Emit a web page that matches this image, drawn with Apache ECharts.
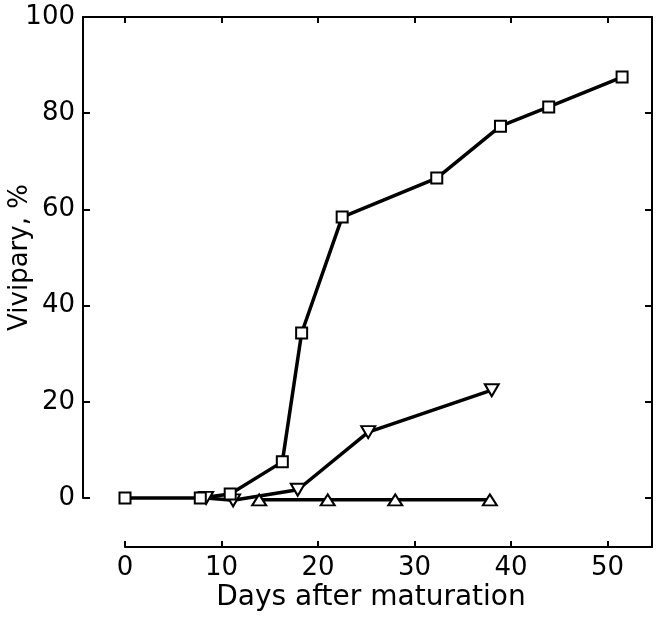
<!DOCTYPE html>
<html>
<head>
<meta charset="utf-8">
<script src="https://cdn.jsdelivr.net/npm/echarts@6/dist/echarts.min.js"></script>
<style>
  html, body { margin: 0; padding: 0; background: #fff; }
  #chart { width: 656px; height: 620px; }
</style>
</head>
<body>
<div id="chart"></div>
<script>
// Vivipary (%) against days after maturation, three treatments
const squareDays   = [0, 7.8, 10.9, 16.3, 18.3, 22.5, 32.3, 38.9, 43.9, 51.5];
const squareValues = [0, 0, 0.8, 7.5, 34.3, 58.4, 66.5, 77.3, 81.3, 87.5];

const downTriDays   = [8.4, 11.2, 17.9, 25.2, 38.0];
const downTriValues = [0, -0.5, 1.7, 13.7, 22.4];

const upTriDays   = [13.9, 21.0, 28.0, 37.8];
const upTriValues = [-0.4, -0.4, -0.4, -0.4];

const xTicks = [0, 10, 20, 30, 40, 50];
const yTicks = [0, 20, 40, 60, 80, 100];

// the day axis sits a little below the 0 % level, so the plotting scale runs below zero
const Y_FLOOR = -10.2;
const X_CEIL = 54.6;

const FONT = 'DejaVu Sans';
const INK = '#000';

function pairs(xs, ys) {
  return xs.map((x, i) => [x, ys[i]]);
}

function lineSeries(name, xs, ys, symbol, size, rotate) {
  return {
    name: name,
    type: 'line',
    xAxisIndex: 1,
    yAxisIndex: 2,
    data: pairs(xs, ys),
    symbol: symbol,
    symbolSize: size,
    symbolRotate: rotate || 0,
    showAllSymbol: true,
    clip: false,
    lineStyle: { color: INK, width: 3.5 },
    itemStyle: { color: '#fff', borderColor: INK, borderWidth: 2 },
    emphasis: { disabled: true },
    animation: false
  };
}

const shownLine = { show: true, onZero: false, lineStyle: { color: INK, width: 2 } };
const hiddenLine = { show: false, onZero: false };
const innerTick = len => ({ show: true, inside: true, length: len, lineStyle: { color: INK, width: 2 } });

const chart = echarts.init(document.getElementById('chart'), null, { renderer: 'canvas' });

chart.setOption({
  backgroundColor: '#fff',
  animation: false,
  grid: [
    // percentage scale: left edge, top edge and right-hand ticks
    { left: 83, right: 4, top: 17, bottom: 122, containLabel: false, outerBoundsMode: 'none' },
    // day scale: bottom axis, top ticks, right edge; series are drawn here
    { left: 125, right: 4, top: 17, bottom: 73, containLabel: false, outerBoundsMode: 'none' }
  ],
  xAxis: [
    {
      gridIndex: 0, type: 'value', position: 'top', min: 0, max: 1,
      axisLine: shownLine,
      axisTick: { show: false }, axisLabel: { show: false }, splitLine: { show: false }
    },
    {
      gridIndex: 1, type: 'value', position: 'bottom',
      min: xTicks[0], max: X_CEIL, interval: 10,
      axisLine: shownLine,
      axisTick: innerTick(6),
      axisLabel: {
        color: INK, fontFamily: FONT, fontSize: 26, margin: 8, showMaxLabel: false,
        formatter: v => (xTicks.indexOf(v) >= 0 ? String(v) : '')
      },
      splitLine: { show: false },
      name: 'Days after maturation',
      nameLocation: 'middle', nameGap: 37, nameMoveOverlap: false,
      nameTextStyle: { color: INK, fontFamily: FONT, fontSize: 28, padding: [0, 35, 0, 0] }
    },
    {
      gridIndex: 1, type: 'value', position: 'top',
      min: xTicks[0], max: X_CEIL, interval: 10,
      axisLine: hiddenLine,
      axisTick: innerTick(6),
      axisLabel: { show: false },
      splitLine: { show: false }
    }
  ],
  yAxis: [
    {
      gridIndex: 0, type: 'value', position: 'left',
      min: yTicks[0], max: yTicks[yTicks.length - 1], interval: 20,
      axisLine: shownLine,
      axisTick: innerTick(7),
      axisLabel: { color: INK, fontFamily: FONT, fontSize: 26, margin: 8 },
      splitLine: { show: false },
      name: 'Vivipary, %',
      nameLocation: 'middle', nameGap: 50, nameRotate: 90, nameMoveOverlap: false,
      nameTextStyle: { color: INK, fontFamily: FONT, fontSize: 26 }
    },
    {
      gridIndex: 0, type: 'value', position: 'right',
      min: yTicks[0], max: yTicks[yTicks.length - 1], interval: 20,
      axisLine: hiddenLine,
      axisTick: Object.assign(innerTick(7), { interval: (i, v) => v > 0 && v < 100 }),
      axisLabel: { show: false },
      splitLine: { show: false }
    },
    {
      gridIndex: 1, type: 'value', position: 'right',
      min: Y_FLOOR, max: yTicks[yTicks.length - 1],
      axisLine: shownLine,
      axisTick: { show: false }, axisLabel: { show: false }, splitLine: { show: false }
    }
  ],
  series: [
    lineSeries('up-triangle', upTriDays, upTriValues, 'triangle', [14, 11], 0),
    lineSeries('down-triangle', downTriDays, downTriValues, 'triangle', [14, 12], 180),
    lineSeries('square', squareDays, squareValues, 'rect', 11, 0)
  ]
});
</script>
</body>
</html>
